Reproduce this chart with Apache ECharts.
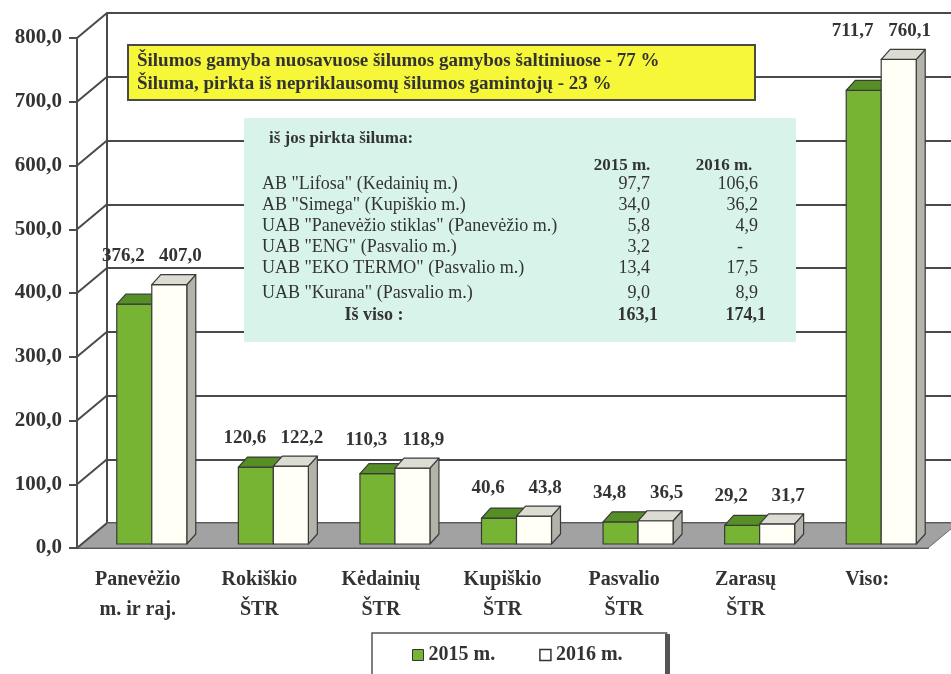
<!DOCTYPE html>
<html>
<head>
<meta charset="utf-8">
<script src="https://cdn.jsdelivr.net/npm/echarts@6.0.0/dist/echarts.min.js"></script>
<style>
  html, body { margin: 0; padding: 0; background: #fff; }
  #chart { width: 951px; height: 674px; }
</style>
</head>
<body>
<div id="chart"></div>
<script>
// ---- duomenys ----
const categories = ['Panevėžio\nm. ir raj.', 'Rokiškio\nŠTR', 'Kėdainių\nŠTR', 'Kupiškio\nŠTR', 'Pasvalio\nŠTR', 'Zarasų\nŠTR', 'Viso:'];
const values2015 = [376.2, 120.6, 110.3, 40.6, 34.8, 29.2, 711.7];
const values2016 = [407.0, 122.2, 118.9, 43.8, 36.5, 31.7, 760.1];
const seriesNames = ['2015 m.', '2016 m.'];
const yTicks = [0, 100, 200, 300, 400, 500, 600, 700, 800];

const noteLines = [
    'Šilumos gamyba nuosavuose šilumos gamybos šaltiniuose - 77 %',
    'Šiluma, pirkta iš nepriklausomų šilumos gamintojų - 23 %',
];
const tableTitle = 'iš jos pirkta šiluma:';
const tableHeader = ['2015 m.', '2016 m.'];
const supplierNames = [
    'AB "Lifosa" (Kedainių m.)',
    'AB "Simega" (Kupiškio m.)',
    'UAB "Panevėžio stiklas" (Panevėžio m.)',
    'UAB "ENG" (Pasvalio m.)',
    'UAB "EKO TERMO" (Pasvalio m.)',
    'UAB "Kurana" (Pasvalio m.)',
];
const supply2015 = [97.7, 34.0, 5.8, 3.2, 13.4, 9.0];
const supply2016 = [106.6, 36.2, 4.9, null, 17.5, 8.9];
const totalLabel = 'Iš viso :';
const total2015 = 163.1;
const total2016 = 174.1;

// ---- išdėstymas ----
const SERIF = "'Liberation Serif', 'DejaVu Serif', serif";
const INK = '#333';
const GRID_LINE = '#4a4a4a';
const DEPTH = [30, -25];       // galinės sienos poslinkis
const BAR_DEPTH = [9, -10];    // stulpelio gylis
const BAR_W = 35;
const PAIR_SHIFT = 14;
const LIFT = 4;
const LABEL_GAP = 28;
const LABEL_SPREAD = 11;
const rowY = [184, 205, 226, 247, 268, 293, 315];

const palette = [
    { front: '#77b434', top: '#558f26', side: '#4b7f20' },
    { front: '#fffff6', top: '#dcdcd2', side: '#b3b3aa' },
];

const fmt = v => (v == null ? '-' : Number(v).toFixed(1).replace('.', ','));

// grindys ir kairė siena
function renderWalls(params, api) {
    const cs = params.coordSys;
    const left = cs.x, right = cs.x + cs.width;
    const base = api.coord([0, 0])[1];
    const [dx, dy] = DEPTH;
    const children = [{
        type: 'polygon',
        shape: { points: [[left, base], [right, base], [right + dx, base + dy], [left + dx, base + dy]] },
        style: { fill: '#a2a2a2', stroke: '#666', lineWidth: 1 },
    }];
    yTicks.forEach(v => {
        const y = api.coord([0, v])[1];
        children.push({
            type: 'line',
            shape: { x1: left, y1: y, x2: left + dx, y2: y + dy },
            style: { stroke: GRID_LINE, lineWidth: 2 },
        });
    });
    return { type: 'group', children };
}

function makeBarRenderer(s) {
    return function (params, api) {
        const i = api.value(0);
        const base = api.coord([i, 0]);
        const top = api.coord([i, api.value(1)]);
        const peak = api.coord([i, api.value(2)]);
        const x0 = base[0] + PAIR_SHIFT - (s === 0 ? BAR_W : 0);
        const x1 = x0 + BAR_W;
        const yb = base[1] - LIFT;
        const yt = top[1] - LIFT;
        const [dx, dy] = BAR_DEPTH;
        const c = palette[s];
        const edge = { stroke: '#3a3a3a', lineWidth: 1.2, lineJoin: 'round' };
        const children = [];
        if (s === 1) {
            children.push({
                type: 'polygon',
                shape: { points: [[x1, yb], [x1 + dx, yb + dy], [x1 + dx, yt + dy], [x1, yt]] },
                style: Object.assign({ fill: c.side }, edge),
            });
        }
        children.push({
            type: 'rect',
            shape: { x: x0, y: yt, width: BAR_W, height: yb - yt },
            style: Object.assign({ fill: c.front }, edge),
        });
        children.push({
            type: 'polygon',
            shape: { points: [[x0, yt], [x0 + dx, yt + dy], [x1 + dx, yt + dy], [x1, yt]] },
            style: Object.assign({ fill: c.top }, edge),
        });
        children.push({
            type: 'text',
            x: (x0 + x1) / 2 + (s === 0 ? -LABEL_SPREAD : LABEL_SPREAD),
            y: peak[1] - LIFT - LABEL_GAP,
            style: {
                text: fmt(api.value(1)), font: 'bold 19px ' + SERIF, fill: INK,
                align: 'center', verticalAlign: 'middle',
            },
        });
        return { type: 'group', children };
    };
}

// lentelės tekstai
function tableTexts() {
    const els = [];
    const txt = (text, x, y, font, align) => els.push({
        type: 'text', x, y, z: 4,
        style: { text, font, fill: INK, align: align || 'left', verticalAlign: 'middle' },
    });
    txt(tableTitle, 269, 139, 'bold 17px ' + SERIF);
    txt(tableHeader[0], 622, 166, 'bold 17px ' + SERIF, 'center');
    txt(tableHeader[1], 724, 166, 'bold 17px ' + SERIF, 'center');
    supplierNames.forEach((name, r) => {
        txt(name, 262, rowY[r], '18px ' + SERIF);
        txt(fmt(supply2015[r]), 650, rowY[r], '18px ' + SERIF, 'right');
        txt(fmt(supply2016[r]), supply2016[r] == null ? 740 : 758, rowY[r], '18px ' + SERIF, supply2016[r] == null ? 'center' : 'right');
    });
    const last = rowY[rowY.length - 1];
    txt(totalLabel, 374, last, 'bold 18px ' + SERIF, 'center');
    txt(fmt(total2015), 658, last, 'bold 18px ' + SERIF, 'right');
    txt(fmt(total2016), 766, last, 'bold 18px ' + SERIF, 'right');
    return els;
}

const chart = echarts.init(document.getElementById('chart'), null, { renderer: 'canvas' });

const option = {
    animation: false,
    backgroundColor: '#fff',
    grid: [
        { left: 77, right: 23, top: 38, bottom: 126 },
        { left: 107, right: 0, top: 13, bottom: 151 },
    ],
    xAxis: [
        {
            gridIndex: 0, type: 'category', data: categories,
            axisLine: { lineStyle: { color: '#4d4d4d', width: 2 } },
            axisTick: { length: 6, lineStyle: { color: '#4d4d4d', width: 2 } },
            axisLabel: {
                fontFamily: SERIF, fontWeight: 'bold', fontSize: 20, color: INK,
                lineHeight: 30, margin: 17, interval: 0,
            },
        },
        { gridIndex: 1, type: 'value', min: 0, max: 1, show: false },
    ],
    yAxis: [
        {
            gridIndex: 0, type: 'value', min: 0, max: 800, interval: 100,
            axisLine: { show: true, lineStyle: { color: '#4d4d4d', width: 2 } },
            axisTick: { show: true, length: 8, lineStyle: { color: '#4d4d4d', width: 2 } },
            splitLine: { show: false },
            axisLabel: {
                formatter: v => fmt(v), fontFamily: SERIF, fontWeight: 'bold',
                fontSize: 21, color: INK, margin: 15, padding: [4, 0, 0, 0],
            },
        },
        {
            gridIndex: 1, type: 'value', min: 0, max: 800, interval: 100,
            axisLine: { show: true, lineStyle: { color: GRID_LINE, width: 2 } },
            axisTick: { show: false },
            axisLabel: { show: false },
            splitLine: { show: true, lineStyle: { color: GRID_LINE, width: 2 } },
        },
    ],
    legend: {
        left: 372, top: 633,
        data: [
            { name: seriesNames[0], itemStyle: { color: palette[0].front, borderColor: '#333', borderWidth: 1 } },
            { name: seriesNames[1], itemStyle: { color: '#fff', borderColor: '#333', borderWidth: 1.5 } },
        ],
        icon: 'rect', itemWidth: 11, itemHeight: 11, itemGap: 44,
        textStyle: { fontFamily: SERIF, fontWeight: 'bold', fontSize: 20, color: INK },
        padding: [12, 44, 40, 40],
        backgroundColor: '#fff', borderColor: '#555', borderWidth: 1.5,
        selectedMode: false,
    },
    graphic: {
        elements: [
            {
                type: 'rect', z: 3,
                shape: { x: 128, y: 45, width: 627, height: 55 },
                style: { fill: '#f7f73a', stroke: GRID_LINE, lineWidth: 2 },
            },
            ...noteLines.map((t, k) => ({
                type: 'text', z: 4, x: 137, y: 61 + k * 23,
                style: { text: t, font: 'bold 19px ' + SERIF, fill: INK, verticalAlign: 'middle' },
            })),
            {
                type: 'rect', z: 3,
                shape: { x: 244, y: 118, width: 552, height: 224 },
                style: { fill: '#d8f3ea' },
            },
            ...tableTexts(),
            {
                // legendos rėmelio storas dešinys kraštas
                type: 'rect', z: 20,
                shape: { x: 665, y: 634, width: 5, height: 40 },
                style: { fill: '#555' },
            },
        ],
    },
    series: [
        {
            type: 'custom', name: 'walls', xAxisIndex: 0, yAxisIndex: 0, z: 1, silent: true,
            data: [[0, 0]], renderItem: renderWalls,
        },
        {
            type: 'custom', name: seriesNames[0], xAxisIndex: 0, yAxisIndex: 0, z: 5,
            itemStyle: { color: palette[0].front },
            data: values2015.map((v, i) => [i, v, Math.max(v, values2016[i])]),
            renderItem: makeBarRenderer(0),
        },
        {
            type: 'custom', name: seriesNames[1], xAxisIndex: 0, yAxisIndex: 0, z: 5,
            itemStyle: { color: palette[1].front },
            data: values2016.map((v, i) => [i, v, Math.max(v, values2015[i])]),
            renderItem: makeBarRenderer(1),
        },
    ],
};

chart.setOption(option);
</script>
</body>
</html>
